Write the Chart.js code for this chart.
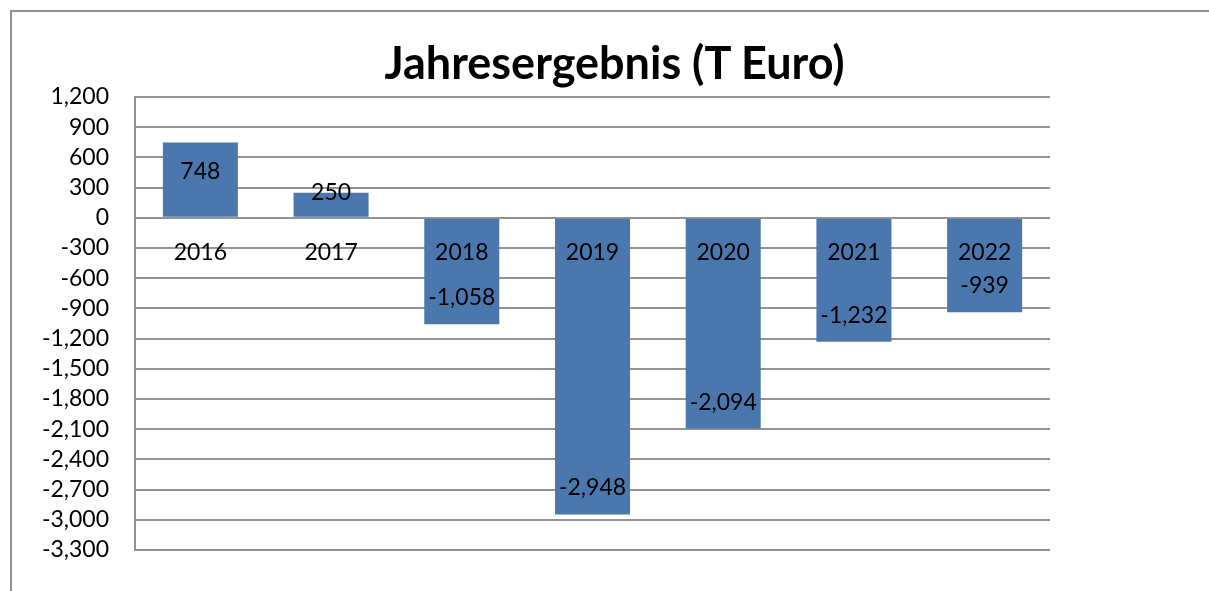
<!DOCTYPE html>
<html>
<head>
<meta charset="utf-8">
<script src="https://cdn.jsdelivr.net/npm/chart.js@4/dist/chart.umd.min.js"></script>
<style>
  html, body { margin: 0; padding: 0; background: #fff; overflow: hidden; }
  #frame {
    position: absolute; left: 10px; top: 10px; width: 1300px; height: 700px;
    border-top: 2px solid #8f8f8f; border-left: 2px solid #8f8f8f;
  }
  #c { position: absolute; left: 0; top: 0; }
  #title {
    position: absolute; left: 20px; right: 0; top: 35px;
    text-align: center; color: #000;
    font: bold 45px Lato, "Open Sans", "DejaVu Sans", sans-serif;
    line-height: 54px;
  }
</style>
</head>
<body>
<div id="frame"></div>
<canvas id="c" width="1209" height="591"></canvas>
<div id="title">Jahresergebnis (T Euro)</div>
<script>
// Annual result per year, in thousand euro
const years = ['2016', '2017', '2018', '2019', '2020', '2021', '2022'];
const results = [748, 250, -1058, -2948, -2094, -1232, -939];

// Value axis range and spacing
const yMin = -3300;
const yMax = 1200;
const yStep = 300;

const FONT = 'Lato, "Open Sans", "DejaVu Sans", sans-serif';
const fmt = v => v.toLocaleString('en-US');

// Value labels sit just inside the end of each bar
const valueLabels = {
  id: 'valueLabels',
  afterDatasetsDraw(chart) {
    const ctx = chart.ctx;
    const meta = chart.getDatasetMeta(0);
    ctx.save();
    ctx.font = '23px ' + FONT;
    ctx.fillStyle = '#000';
    ctx.textAlign = 'center';
    ctx.textBaseline = 'middle';
    meta.data.forEach((bar, i) => {
      const len = Math.abs(bar.base - bar.y);
      const off = Math.min(28, len - 26);
      const dir = bar.y < bar.base ? 1 : -1;
      ctx.fillText(fmt(results[i]), bar.x, bar.y + dir * off + 1.5);
    });
    ctx.restore();
  }
};

new Chart(document.getElementById('c'), {
  type: 'bar',
  data: {
    labels: years,
    datasets: [{
      data: results,
      backgroundColor: '#4a78ae',
      borderWidth: 0,
      categoryPercentage: 1,
      barPercentage: 0.574
    }]
  },
  options: {
    responsive: false,
    animation: false,
    layout: { padding: { left: 0, right: 159, top: 97, bottom: 41 } },
    plugins: {
      legend: { display: false },
      tooltip: { enabled: false },
      title: { display: false }
    },
    scales: {
      x: {
        position: { y: 0 },
        grid: { display: false, drawTicks: false },
        border: { display: false },
        ticks: {
          z: 1,
          color: '#000',
          font: { family: FONT, size: 23 },
          padding: 21,
          maxRotation: 0,
          autoSkip: false
        }
      },
      y: {
        min: yMin,
        max: yMax,
        grid: { color: '#939393', lineWidth: 2, drawTicks: false },
        border: { display: true, color: '#939393', width: 2 },
        ticks: {
          stepSize: yStep,
          autoSkip: false,
          color: '#000',
          font: { family: FONT, size: 23 },
          padding: 26,
          callback: v => fmt(v)
        },
        afterFit(scale) { scale.width = 135; }
      }
    }
  },
  plugins: [valueLabels]
});
</script>
</body>
</html>
